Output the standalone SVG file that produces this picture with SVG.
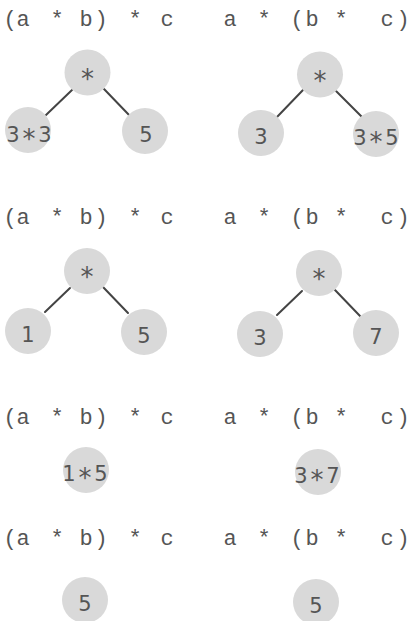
<svg xmlns="http://www.w3.org/2000/svg" width="411" height="621" viewBox="0 0 411 621">
<style>
.bg{fill:#ffffff}
.title{font-family:"Liberation Mono","Courier New",monospace;font-size:22px;fill:#555555;text-anchor:middle}
.node circle{fill:#d9d9d9}
.node text{font-family:"DejaVu Sans","Liberation Sans",sans-serif;font-size:21px;fill:#555555;text-anchor:middle}
.node .ast{font-size:26px}
.edge{stroke:#444444;stroke-width:2;fill:none;stroke-linecap:round}
</style>
<rect class="bg" x="0" y="0" width="411" height="621"/>

<g id="titles">
<text class="title" x="10 23 40 57 72 86 101 118 135 151 167" y="26">(a * b) * c</text>
<text class="title" x="230 247 264 281 297 312 326 341 364 387 403" y="26">a * (b * c)</text>
<text class="title" x="10 23 40 57 72 86 101 118 135 151 167" y="224">(a * b) * c</text>
<text class="title" x="230 247 264 281 297 312 326 341 364 387 403" y="224">a * (b * c)</text>
<text class="title" x="10 23 40 57 72 86 101 118 135 151 167" y="424">(a * b) * c</text>
<text class="title" x="230 247 264 281 297 312 326 341 364 387 403" y="424">a * (b * c)</text>
<text class="title" x="10 23 40 57 72 86 101 118 135 151 167" y="545">(a * b) * c</text>
<text class="title" x="230 247 264 281 297 312 326 341 364 387 403" y="545">a * (b * c)</text>
</g>

<g id="connectors">
<line class="edge" x1="72" y1="90" x2="46" y2="115"/>
<line class="edge" x1="104" y1="89" x2="130" y2="116"/>
<line class="edge" x1="303" y1="90" x2="277" y2="117"/>
<line class="edge" x1="336" y1="91" x2="362" y2="117"/>
<line class="edge" x1="70" y1="288" x2="45" y2="312"/>
<line class="edge" x1="103" y1="287" x2="128" y2="313"/>
<line class="edge" x1="302" y1="291" x2="277" y2="315"/>
<line class="edge" x1="335" y1="290" x2="360" y2="316"/>
</g>

<g id="n1-top" class="node"><circle cx="87.5" cy="72.5" r="23"/><text class="ast" x="87.5" y="87.5">*</text></g>
<g id="n1-left" class="node"><circle cx="28" cy="130" r="23"/><text x="13 29 45" y="142">3<tspan class="ast" dy="6">*</tspan><tspan dy="-6">3</tspan></text></g>
<g id="n1-right" class="node"><circle cx="145" cy="131" r="23"/><text x="146" y="142">5</text></g>

<g id="n2-top" class="node"><circle cx="320" cy="74.5" r="23"/><text class="ast" x="320" y="89.5">*</text></g>
<g id="n2-left" class="node"><circle cx="261" cy="133" r="23"/><text x="261" y="144">3</text></g>
<g id="n2-right" class="node"><circle cx="376" cy="134" r="23"/><text x="360 376 392" y="145">3<tspan class="ast" dy="6">*</tspan><tspan dy="-6">5</tspan></text></g>

<g id="n3-top" class="node"><circle cx="87" cy="271" r="23"/><text class="ast" x="87" y="286">*</text></g>
<g id="n3-left" class="node"><circle cx="28" cy="331" r="23"/><text x="28" y="342">1</text></g>
<g id="n3-right" class="node"><circle cx="144" cy="332" r="23"/><text x="144" y="343">5</text></g>

<g id="n4-top" class="node"><circle cx="319" cy="273" r="23"/><text class="ast" x="319" y="288">*</text></g>
<g id="n4-left" class="node"><circle cx="260" cy="334" r="23"/><text x="260" y="345">3</text></g>
<g id="n4-right" class="node"><circle cx="376" cy="333" r="23"/><text x="376" y="344">7</text></g>

<g id="n5" class="node"><circle cx="86" cy="470" r="23"/><text x="69 85 101" y="481">1<tspan class="ast" dy="6">*</tspan><tspan dy="-6">5</tspan></text></g>
<g id="n6" class="node"><circle cx="318" cy="472" r="23"/><text x="301 317 333" y="483">3<tspan class="ast" dy="6">*</tspan><tspan dy="-6">7</tspan></text></g>

<g id="n7" class="node"><circle cx="85" cy="600" r="23"/><text x="85" y="611">5</text></g>
<g id="n8" class="node"><circle cx="316" cy="602" r="23"/><text x="316" y="613">5</text></g>
</svg>
